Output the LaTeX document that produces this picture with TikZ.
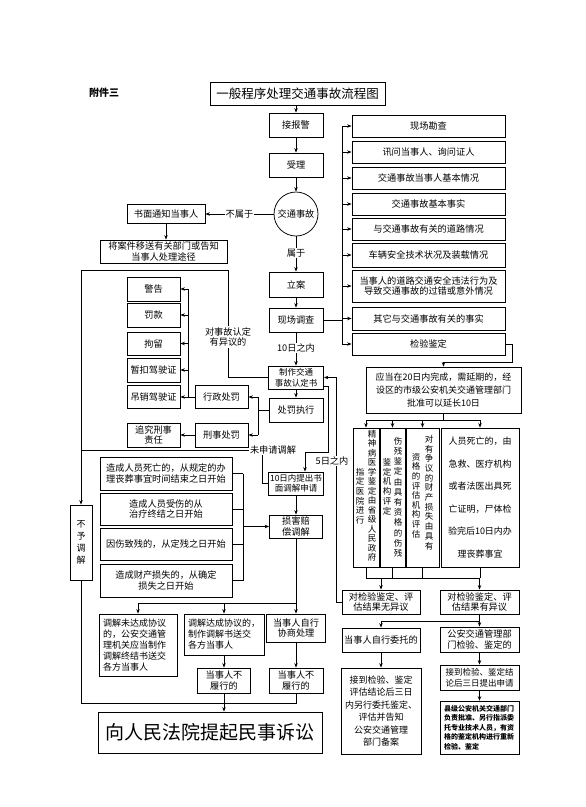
\documentclass[tikz,border=0pt]{standalone}
\usepackage{fontspec}
\setmainfont{Noto Sans CJK SC}
\usetikzlibrary{arrows.meta}
\begin{document}
\begin{tikzpicture}[x=1pt,y=-1pt,
 box/.style={draw, line width=0.75pt, inner sep=0pt, align=center, font=\fontsize{9.2}{10.8}\selectfont},
 lbl/.style={fill=white, inner sep=1pt, align=center, font=\fontsize{9.2}{10.8}\selectfont},
 arr/.style={-{Stealth[length=4.5pt,width=3.5pt]}, line width=0.75pt},
 ln/.style={line width=0.75pt},
 vcol/.style={inner sep=0pt, align=center, anchor=north},
]
\useasboundingbox (0,0) rectangle (586,807);
\fill[white] (0,0) rectangle (586,807);

% ---------- helper coordinates ----------
\coordinate (bus) at (342,0);
\coordinate (pbus) at (188,0);
\coordinate (cfx) at (258,0);
\coordinate (ax) at (228,0);
\coordinate (lx) at (81,0);
\coordinate (loopy) at (0,270);
\coordinate (fx) at (328,0);
\coordinate (fy) at (0,452);
\coordinate (sx) at (305,0);
\coordinate (nx) at (336,0);
\coordinate (wx) at (262,0);
\coordinate (wy) at (0,450);
\coordinate (bx) at (243,0);
\coordinate (my) at (0,603);
\coordinate (cy) at (0,703);
\coordinate (jx) at (512,0);
\coordinate (jy) at (0,362);
\coordinate (dy) at (0,420);
\coordinate (ey) at (0,578);
\coordinate (gy) at (0,621);

% ---------- top ----------
\node[font=\fontsize{10}{12}\selectfont\bfseries] (fujian) at (104,93) {附件三};
\node[box, minimum width=175pt, minimum height=23pt, font=\fontsize{12.5}{14}\selectfont] (title) at (297.5,93.5) {一般程序处理交通事故流程图};
\node[box, minimum width=54pt, minimum height=24pt] (jiebao) at (296,125) {接报警};
\node[box, minimum width=54pt, minimum height=24pt] (shouli) at (296,165) {受理};
\node[box, circle, minimum size=44pt] (circ) at (296,214) {交通事故};
\node[box, minimum width=78pt, minimum height=19pt] (shumian) at (166,214) {书面通知当事人};
\node[box, minimum width=127pt, minimum height=23pt] (jiangan) at (163.5,251.5) {将案件移送有关部门或告知\\当事人处理途径};
\node[box, minimum width=54pt, minimum height=25pt] (lian) at (296,284.5) {立案};
\node[box, minimum width=54pt, minimum height=24pt] (xcdc) at (296,320) {现场调查};
\node[box, minimum width=55pt, minimum height=23pt, font=\fontsize{8.5}{10.5}\selectfont] (zhizuo) at (296,377.5) {制作交通\\事故认定书};
\node[box, minimum width=54pt, minimum height=24pt] (chufa) at (296,410) {处罚执行};
\node[box, minimum width=53pt, minimum height=23pt] (xzcf) at (221.5,397) {行政处罚};
\node[box, minimum width=53pt, minimum height=24pt] (xscf) at (221.5,435) {刑事处罚};

% penalties
\node[box, minimum width=53pt, minimum height=24pt] (jinggao) at (153.5,289) {警告};
\node[box, minimum width=53pt, minimum height=24pt] (fakuan) at (153.5,315) {罚款};
\node[box, minimum width=53pt, minimum height=23pt] (juliu) at (153.5,343.5) {拘留};
\node[box, minimum width=53pt, minimum height=24pt] (zankou) at (153.5,370) {暂扣驾驶证};
\node[box, minimum width=53pt, minimum height=23pt] (diaoxiao) at (153.5,397) {吊销驾驶证};
\node[box, minimum width=53pt, minimum height=24pt] (zhuijiu) at (153.5,435) {追究刑事\\责任};

% right list
\node[box, minimum width=153pt, minimum height=22pt] (r1) at (428.5,126) {现场勘查};
\node[box, minimum width=153pt, minimum height=22pt] (r2) at (428.5,152) {讯问当事人、询问证人};
\node[box, minimum width=153pt, minimum height=22pt] (r3) at (428.5,178) {交通事故当事人基本情况};
\node[box, minimum width=153pt, minimum height=22pt] (r4) at (428.5,204) {交通事故基本事实};
\node[box, minimum width=153pt, minimum height=22pt] (r5) at (428.5,229) {与交通事故有关的道路情况};
\node[box, minimum width=153pt, minimum height=24pt] (r6) at (428.5,255) {车辆安全技术状况及装载情况};
\node[box, minimum width=153pt, minimum height=32pt] (r7) at (428.5,286) {当事人的道路交通安全违法行为及\\导致交通事故的过错或意外情况};
\node[box, minimum width=153pt, minimum height=23pt] (r8) at (428.5,318.5) {其它与交通事故有关的事实};
\node[box, minimum width=153pt, minimum height=22pt] (r9) at (428.5,344) {检验鉴定};

% mediation area
\node[box, minimum width=55pt, minimum height=23pt, font=\fontsize{8.5}{10.5}\selectfont] (shiyi) at (296,483.5) {10日内提出书\\面调解申请};
\node[box, minimum width=53pt, minimum height=23pt] (sunhai) at (296,526.5) {损害赔\\偿调解};
\node[box, minimum width=132pt, minimum height=33pt] (t1) at (166,473.5) {造成人员死亡的，从规定的办\\理丧葬事宜时间结束之日开始};
\node[box, minimum width=132pt, minimum height=32pt] (t2) at (166,509) {造成人员受伤的从\\治疗终结之日开始};
\node[box, minimum width=132pt, minimum height=32pt] (t3) at (166,544) {因伤致残的，从定残之日开始};
\node[box, minimum width=132pt, minimum height=33pt] (t4) at (166,580.5) {造成财产损失的，从确定\\损失之日开始};
\node[box, minimum width=22pt, minimum height=75pt, font=\fontsize{9}{12}\selectfont] (buyu) at (81,542.5) {不\\予\\调\\解};

\node[box, text width=70pt, inner sep=4pt, minimum height=62pt, align=left, font=\fontsize{9}{11}\selectfont] (m1) at (138,645) {调解未达成协议\\的，公安交通管\\理机关应当制作\\调解终结书送交\\各方当事人};
\node[box, text width=72pt, inner sep=4pt, minimum height=41pt, align=left, font=\fontsize{9}{11}\selectfont] (m2) at (224,634.5) {调解达成协议的，\\制作调解书送交\\各方当事人};
\node[box, minimum width=59pt, minimum height=28pt] (m3) at (296,628) {当事人自行\\协商处理};
\node[box, minimum width=53pt, minimum height=25pt] (n1) at (224,680.5) {当事人不\\履行的};
\node[box, minimum width=54pt, minimum height=25pt] (n2) at (296,680.5) {当事人不\\履行的};
\node[box, minimum width=224pt, minimum height=41pt, font=\fontsize{19}{22}\selectfont] (court) at (210,732.5) {向人民法院提起民事诉讼};

% right lower
\node[box, minimum width=155pt, minimum height=46pt, font=\fontsize{9}{13}\selectfont] (yingdang) at (443.5,390) {应当在20日内完成，需延期的，经\\设区的市级公安机关交通管理部门\\批准可以延长10日};
\node[box, minimum width=26pt, minimum height=139pt] (v1) at (366,497.5) {};
\node[box, minimum width=25pt, minimum height=139pt] (v2) at (392.5,497.5) {};
\node[box, minimum width=33pt, minimum height=139pt] (v3) at (422.5,497.5) {};
\node[box, minimum width=78pt, minimum height=139pt, font=\fontsize{9}{22.6}\selectfont] (v4) at (480,497.5) {人员死亡的，由\\急救、医疗机构\\或者法医出具死\\亡证明，尸体检\\验完后10日内办\\理丧葬事宜};
\node[vcol, font=\fontsize{8.5}{9.5}\selectfont] (v1a) at (372,430) {精\\神\\病\\医\\学\\鉴\\定\\由\\省\\级\\人\\民\\政\\府};
\node[vcol, font=\fontsize{8.5}{9.6}\selectfont] (v1b) at (360,468) {指\\定\\医\\院\\进\\行};
\node[vcol, font=\fontsize{8.5}{10.2}\selectfont] (v2a) at (398,437) {伤\\残\\鉴\\定\\由\\具\\有\\资\\格\\的\\伤\\残};
\node[vcol, font=\fontsize{8.5}{9.8}\selectfont] (v2b) at (387,458) {鉴\\定\\机\\构\\评\\定};
\node[vcol, font=\fontsize{8.5}{9.7}\selectfont] (v3a) at (429,435) {对\\有\\争\\议\\的\\财\\产\\损\\失\\由\\具\\有};
\node[vcol, font=\fontsize{8.5}{9.6}\selectfont] (v3b) at (416,453) {资\\格\\的\\评\\估\\机\\构\\评\\估};

\node[box, minimum width=78pt, minimum height=24pt] (wuyiyi) at (381,602) {对检验鉴定、评\\估结果无异议};
\node[box, minimum width=79pt, minimum height=24pt] (youyiyi) at (479.5,602) {对检验鉴定、评\\估结果有异议};
\node[box, minimum width=78pt, minimum height=24pt] (zizhu) at (381,640) {当事人自行委托的};
\node[box, minimum width=79pt, minimum height=25pt] (gongan) at (479.5,639.5) {公安交通管理部\\门检验、鉴定的};
\node[box, minimum width=80pt, minimum height=86pt, font=\fontsize{9}{12.5}\selectfont] (jiedao1) at (381,711) {接到检验、鉴定\\评估结论后三日\\内另行委托鉴定、\\评估并告知\\公安交通管理\\部门备案};
\node[box, minimum width=79pt, minimum height=25pt, font=\fontsize{8.5}{10.5}\selectfont] (jiedao2) at (479.5,677.5) {接到检验、鉴定结\\论后三日提出申请};
\node[box, text width=71pt, inner sep=4pt, minimum height=51pt, align=left, font=\fontsize{7}{9.5}\selectfont\bfseries] (xianji) at (479.5,727.5) {县级公安机关交通部门\\负责批准、另行指派委\\托专业技术人员，有资\\格的鉴定机构进行重新\\检验、鉴定};

% ---------- connectors ----------
\draw[arr] (title.south -| jiebao.north) -- (jiebao.north);
\draw[arr] (jiebao) -- (shouli);
\draw[arr] (shouli) -- (circ);
\draw[arr] (circ.west) -- (shumian.east);
\node[lbl] (lbushu) at (239.5,214) {不属于};
\draw[arr] (shumian.south) -- (shumian.south |- jiangan.north);
\draw[arr] (circ) -- (lian);
\node[lbl] (lshu) at (296,253) {属于};
\draw[arr] (lian) -- (xcdc);
\draw[arr] (xcdc) -- (zhizuo);
\node[lbl] (l10) at (296,348) {10日之内};

\draw[ln] (xcdc.east) -- (xcdc.east -| bus);
\draw[ln] (r1.west -| bus) -- (r9.west -| bus);
\foreach \r in {r1,r2,r3,r4,r5,r6,r7,r8,r9}
  \draw[arr] (\r.west -| bus) -- (\r.west);

\draw[arr] (zhizuo) -- (chufa);
\draw[ln] (chufa.west) -- (chufa.west -| cfx);
\draw[ln] (xzcf.east -| cfx) -- (xscf.east -| cfx);
\draw[arr] (xzcf.east -| cfx) -- (xzcf.east);
\draw[arr] (xscf.east -| cfx) -- (xscf.east);
\draw[arr] (xzcf.west) -- (diaoxiao.east);
\draw[ln] (jinggao.east -| pbus) -- (diaoxiao.east -| pbus);
\foreach \p in {jinggao,fakuan,juliu,zankou}
  \draw[arr] (\p.east -| pbus) -- (\p.east);
\draw[arr] (xscf) -- (zhuijiu);

% objection loop
\draw[arr] (zhizuo.west) -- (zhizuo.west -| ax) -- (ax |- loopy) -- (lx |- loopy) -- (buyu.north);
\node[lbl] (lyiyi) at (228,337) {对事故认定\\有异议的};

% 5 days
\coordinate (z5) at ([yshift=-9pt]zhizuo.east);
\draw[arr] (z5) -- (z5 -| fx) -- (fx |- fy) -- (sx |- fy) -- (sx |- shiyi.north);
% no objection back to determination
\draw[arr] (wuyiyi.west) -- (wuyiyi.west -| nx) -- (nx |- zhizuo.east) -- (zhizuo.east);
\node[lbl] (l5) at (332,461) {5日之内};

% not applying for mediation
\draw[ln] (shiyi.west) -- (shiyi.west -| wx) -- (wx |- wy) -- (lx |- wy);
\node[lbl] (lwei) at (273,450) {未申请调解};

\draw[arr] (shiyi) -- (sunhai);
\foreach \t in {t1,t2,t3,t4}
  \draw[ln] (\t.east) -- (\t.east -| bx);
\draw[ln] (t1.east -| bx) -- (t4.east -| bx);
\draw[arr] (bx |- sunhai.west) -- (sunhai.west);

\draw[ln] (sunhai.south) -- (sunhai.south |- my);
\draw[ln] (m1.north |- my) -- (m3.north |- my);
\foreach \m in {m1,m2,m3}
  \draw[arr] (\m.north |- my) -- (\m.north);
\draw[arr] (m2.south) -- (m2.south |- n1.north);
\draw[arr] (m3) -- (n2);
\draw[ln] (buyu.south) -- (buyu.south |- cy) -- (n2.south |- cy) -- (n2.south);
\draw[arr] (n1.south) -- (n1.south |- court.north);

% right lower connectors
\draw[arr] (r9.east) -- (r9.east -| jx) -- (jx |- jy) -- (yingdang.north |- jy) -- (yingdang.north);
\draw[ln] (yingdang.south) -- (yingdang.south |- dy);
\draw[ln] (v1.north |- dy) -- (v4.north |- dy);
\foreach \v in {v1,v2,v3,v4}
  \draw[arr] (\v.north |- dy) -- (\v.north);
\foreach \v in {v1,v2,v3,v4}
  \draw[ln] (\v.south) -- (\v.south |- ey);
\draw[ln] (v1.south |- ey) -- (v4.south |- ey);
\draw[arr] (wuyiyi.north |- ey) -- (wuyiyi.north);
\draw[arr] (youyiyi.north |- ey) -- (youyiyi.north);
\draw[ln] (youyiyi.south) -- (youyiyi.south |- gy) -- (zizhu.north |- gy);
\draw[arr] (zizhu.north |- gy) -- (zizhu.north);
\draw[arr] (gongan.north |- gy) -- (gongan.north);
\draw[arr] (zizhu) -- (jiedao1);
\draw[arr] (gongan) -- (jiedao2);
\draw[arr] (jiedao2) -- (xianji);
\end{tikzpicture}
\end{document}
